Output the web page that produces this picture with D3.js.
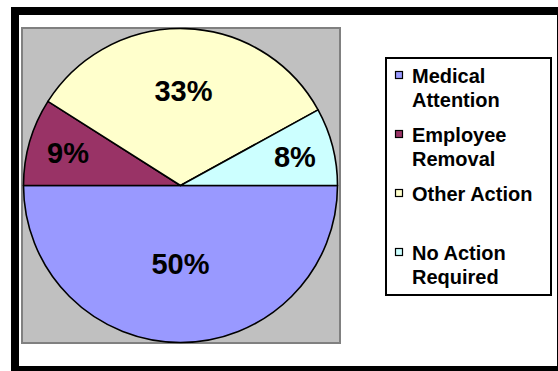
<!DOCTYPE html>
<html>
<head>
<meta charset="utf-8">
<script src="https://cdn.jsdelivr.net/npm/d3@7"></script>
<style>
  html, body { margin: 0; padding: 0; background: #fff; }
  svg { display: block; }
  text { font-family: "Liberation Sans", Arial, sans-serif; font-weight: bold; fill: #000; }
</style>
</head>
<body>
<svg id="chart" width="558" height="371"></svg>
<script>
// Share of incidents by follow-up action
const categories = ["Medical Attention", "Employee Removal", "Other Action", "No Action Required"];
const legendLines = [["Medical", "Attention"], ["Employee", "Removal"], ["Other Action"], ["No Action", "Required"]];
const shares = [50, 9, 33, 8];
const sliceColors = ["#9999FF", "#993366", "#FFFFCC", "#CCFFFF"];

const svg = d3.select("#chart");

// outer chart frame
svg.append("rect")
  .attr("x", 15).attr("y", 11)
  .attr("width", 546).attr("height", 359)
  .attr("fill", "#fff")
  .attr("stroke", "#000")
  .attr("stroke-width", 8);

// plot area
const plot = { x: 22, y: 28, w: 318, h: 315 };
svg.append("rect")
  .attr("x", plot.x).attr("y", plot.y)
  .attr("width", plot.w).attr("height", plot.h)
  .attr("fill", "#C0C0C0")
  .attr("stroke", "#808080")
  .attr("stroke-width", 2);

const cx = 180.5, cy = 185.5, r = 157;

const data = categories.map((c, i) => ({ name: c, value: shares[i], color: sliceColors[i] }));

const pie = d3.pie()
  .sort(null)
  .value(d => d.value)
  .startAngle(Math.PI / 2)
  .endAngle(Math.PI / 2 + 2 * Math.PI);

const arcs = pie(data);
const arc = d3.arc().innerRadius(0).outerRadius(r);

const g = svg.append("g").attr("transform", `translate(${cx},${cy})`);

g.selectAll("path.slice")
  .data(arcs)
  .join("path")
  .attr("class", "slice")
  .attr("d", arc)
  .attr("fill", d => d.data.color)
  .attr("stroke", "#000")
  .attr("stroke-width", 1.6)
  .attr("stroke-linejoin", "round");

// percentage labels: smaller slices sit closer to the rim
const total = d3.sum(shares);
g.selectAll("text.pct")
  .data(arcs)
  .join("text")
  .attr("class", "pct")
  .attr("transform", d => {
    const a = (d.startAngle + d.endAngle) / 2;
    const lr = r * (0.8 - 0.6 * d.data.value / total);
    return `translate(${lr * Math.sin(a)},${-lr * Math.cos(a)})`;
  })
  .attr("text-anchor", "middle")
  .attr("dy", "0.36em")
  .style("font-size", "29px")
  .text(d => `${d.data.value}%`);

// legend
const legend = { x: 386, y: 58, w: 165, h: 237 };
svg.append("rect")
  .attr("x", legend.x).attr("y", legend.y)
  .attr("width", legend.w).attr("height", legend.h)
  .attr("fill", "#fff")
  .attr("stroke", "#000")
  .attr("stroke-width", 2);

const entryStep = 59, lineH = 24;
const items = svg.append("g")
  .selectAll("g")
  .data(data)
  .join("g")
  .attr("transform", (d, i) => `translate(${legend.x + 9},${legend.y + 13 + i * entryStep})`);

items.append("rect")
  .attr("x", 0.5).attr("y", 0.5)
  .attr("width", 7).attr("height", 7)
  .attr("fill", d => d.color)
  .attr("stroke", "#000")
  .attr("stroke-width", 1.2);

items.append("text")
  .attr("x", 17)
  .attr("y", 12)
  .style("font-size", "20px")
  .selectAll("tspan")
  .data((d, i) => legendLines[i])
  .join("tspan")
  .attr("x", 17)
  .attr("dy", (d, j) => j === 0 ? 0 : lineH)
  .text(d => d);
</script>
</body>
</html>
